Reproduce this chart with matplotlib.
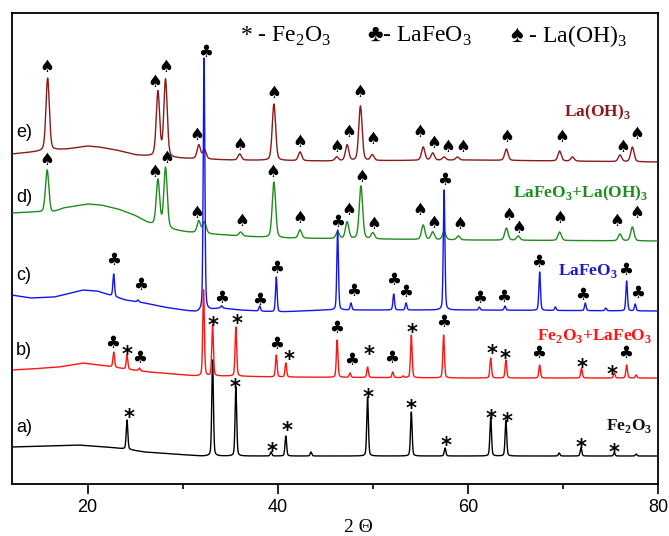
import numpy as np
import matplotlib
matplotlib.use("Agg")
import matplotlib.pyplot as plt

plt.rcParams["mathtext.fontset"] = "custom"
plt.rcParams["mathtext.rm"] = "Liberation Serif"
plt.rcParams["mathtext.bf"] = "Liberation Serif:bold"

# ---- a) Fe2O3 ------------------------------------------------------------
A_BASE_X = [12, 16, 19, 22, 24, 26, 29, 32, 80]
A_BASE_Y = [37, 38, 39, 37, 35, 32, 30, 28, 28]
A_PEAK_X = [24.15, 33.15, 35.6, 39.3, 40.85, 43.5, 49.45, 54.05, 57.6, 62.4, 64.0, 69.6, 71.9, 75.4, 77.7]
A_PEAK_Y = [64, 124, 97, 32, 48, 32, 87, 72, 36, 67, 64, 31, 36, 31, 30]
A_MARKS = [(24.36, 72, "*"), (35.49, 102, "*"), (39.38, 38, "*"), (40.96, 59, "*"),
           (49.46, 92, "*"), (53.98, 81, "*"), (57.66, 44, "*"), (62.39, 71, "*"),
           (64.07, 68, "*"), (71.95, 42, "*"), (75.41, 37, "*")]

# ---- b) Fe2O3 + LaFeO3 ---------------------------------------------------
B_BASE_X = [12, 14, 17, 19.5, 22, 24, 26.5, 29, 31.5, 35, 40, 60, 80]
B_BASE_Y = [114, 115, 117, 121, 118, 115, 112, 110, 108, 108, 107, 106, 106]
B_PEAK_X = [22.75, 24.15, 25.45, 32.2, 33.15, 35.6, 39.85, 40.85, 46.25, 47.6, 49.45,
            52.1, 53.2, 54.05, 57.45, 62.4, 64.0, 67.55, 71.95, 75.4, 76.7, 77.7]
B_PEAK_Y = [132, 129, 116, 194, 159, 157, 129, 121, 144, 111, 117,
            112, 108, 149, 149, 126, 124, 119, 116, 111, 119, 109]
B_MARKS = [(22.68, 141, "♣"), (24.2, 135, "*"), (25.45, 126, "♣"), (33.18, 164, "*"),
           (35.70, 166, "*"), (39.90, 140, "♣"), (41.16, 130, "*"), (46.21, 156, "♣"),
           (47.78, 124, "♣"), (49.57, 135, "*"), (51.98, 126, "♣"), (54.08, 157, "*"),
           (57.44, 162, "♣"), (62.49, 136, "*"), (63.96, 131, "*"), (67.42, 131, "♣"),
           (72.05, 122, "*"), (75.20, 115, "*"), (76.57, 131, "♣")]

# ---- c) LaFeO3 -----------------------------------------------------------
C_BASE_X = [12, 14, 16.5, 19.5, 21, 22.3, 24, 26, 28, 30, 31.5, 34, 36, 40, 45, 60, 80]
C_BASE_Y = [189, 186, 187, 194, 193, 189, 184, 181, 177, 174, 172, 176, 174, 172, 174, 174, 173]
C_PEAK_X = [22.75, 25.3, 32.25, 34.1, 38.1, 39.85, 46.3, 47.7, 52.2, 53.5, 57.5,
            61.2, 63.9, 67.55, 69.2, 72.35, 74.5, 76.7, 77.6]
C_PEAK_Y = [210, 184, 426, 178, 178, 207, 254, 181, 190, 181, 294,
            177, 178, 212, 177, 181, 176, 203, 180]
C_MARKS = [(22.78, 224), (25.62, 199), (32.45, 432), (34.13, 186), (38.12, 184),
           (39.90, 216), (46.31, 262), (47.99, 193), (52.19, 204), (53.45, 192),
           (57.55, 304), (61.23, 186), (63.75, 187), (67.42, 222), (72.05, 189),
           (76.57, 214), (77.83, 191)]

# ---- d) LaFeO3 + La(OH)3 -------------------------------------------------
D_BASE_X = [12, 14.5, 16.2, 17.5, 20, 21.4, 23.2, 24.9, 26.4, 27, 29, 30.5, 33, 36, 40, 50, 60, 80]
D_BASE_Y = [271, 272, 271, 276, 280, 279, 275, 269, 261, 259, 254, 252, 250, 248, 246, 245, 244, 243]
D_PEAK_X = [15.75, 27.4, 28.2, 31.7, 32.3, 36.1, 39.6, 42.35, 46.3, 47.3, 48.75, 50.0,
            55.3, 56.3, 57.5, 59.0, 64.05, 65.3, 69.65, 76.0, 77.3]
D_PEAK_Y = [314, 304, 316, 263, 262, 252, 302, 254, 252, 262, 298, 251,
            259, 252, 252, 248, 256, 248, 252, 250, 257]
D_MARKS = [(15.75, 324), (27.09, 312), (28.35, 326), (31.50, 271), (36.23, 263),
           (39.49, 312), (42.33, 266), (47.47, 274), (48.84, 307), (50.10, 260),
           (54.93, 274), (56.40, 261), (59.13, 260), (64.28, 269), (65.33, 256),
           (69.63, 266), (75.62, 263), (77.72, 271)]

# ---- e) La(OH)3 ----------------------------------------------------------
E_BASE_X = [12, 14.3, 16.4, 17.9, 20, 21.2, 23, 25.1, 26.2, 29, 35, 45, 60, 80]
E_BASE_Y = [330, 332, 334, 335, 338, 337, 334, 329, 328, 326, 324, 323, 324, 322]
E_PEAK_X = [15.8, 27.4, 28.2, 31.7, 32.3, 36.0, 39.6, 42.35, 46.2, 47.3, 48.7, 49.95,
            55.3, 56.3, 57.5, 58.9, 64.05, 69.65, 71.0, 76.0, 77.3]
E_PEAK_Y = [406, 392, 404, 339, 334, 330, 380, 332, 327, 339, 378, 329,
            337, 331, 327, 327, 335, 333, 327, 329, 337]
E_MARKS = [(15.75, 417), (27.09, 402), (28.25, 417), (31.50, 349), (36.02, 339),
           (39.59, 391), (42.33, 342), (46.21, 337), (47.47, 352), (48.63, 392),
           (49.99, 345), (54.93, 352), (56.40, 341), (57.87, 337), (59.45, 337),
           (64.07, 347), (69.85, 347), (76.25, 337), (77.72, 350)]

TRACE_TAGS = ["a)", "b)", "c)", "d)", "e)"]
TAG_Y = [57, 134, 209, 287, 352]
NAMES = [r"Fe$_\mathbf{2}$O$_\mathbf{3}$",
         r"Fe$_\mathbf{2}$O$_\mathbf{3}$+LaFeO$_\mathbf{3}$",
         r"LaFeO$_\mathbf{3}$",
         r"LaFeO$_\mathbf{3}$+La(OH)$_\mathbf{3}$",
         r"La(OH)$_\mathbf{3}$"]
NAME_X = [74.5, 67.3, 69.5, 64.7, 70.1]
NAME_Y = [54, 144, 209, 287, 368]

LINE_COLORS = ["black", "#ff1414", "#1414f0", "#1e8c1e", "#8b1a1a"]
NAME_COLORS = ["#111111", "#ff1414", "#1a1acc", "#1e8c1e", "#8b1a1a"]


def pattern(x, base_x, base_y, peak_x, peak_y, fwhm):
    y = np.interp(x, base_x, base_y)
    for x0, top in zip(peak_x, peak_y):
        amp = top - np.interp(x0, base_x, base_y)
        g = np.exp(-4 * np.log(2) * ((x - x0) / fwhm) ** 2)
        l = 1.0 / (1.0 + 4 * ((x - x0) / fwhm) ** 2)
        y = y + amp * (0.7 * g + 0.3 * l)
    return y


fig = plt.figure(figsize=(6.69, 5.36), dpi=100)
fig.patch.set_facecolor("white")
ax = fig.add_axes([0.0172, 0.097, 0.9664, 0.8787])

x = np.arange(12.0, 80.0, 0.01)
traces = [
    (A_BASE_X, A_BASE_Y, A_PEAK_X, A_PEAK_Y, 0.2),
    (B_BASE_X, B_BASE_Y, B_PEAK_X, B_PEAK_Y, 0.2),
    (C_BASE_X, C_BASE_Y, C_PEAK_X, C_PEAK_Y, 0.2),
    (D_BASE_X, D_BASE_Y, D_PEAK_X, D_PEAK_Y, 0.42),
    (E_BASE_X, E_BASE_Y, E_PEAK_X, E_PEAK_Y, 0.42),
]
zorders = [1, 2, 5, 4, 3]
for (bx, by, px, py, w), col, z in zip(traces, LINE_COLORS, zorders):
    ax.plot(x, pattern(x, bx, by, px, py, w), color=col, lw=1.0, zorder=z)

sym_style = {
    "*": dict(fontsize=15, fontweight="bold", family="DejaVu Sans", dy=-4),
    "♣": dict(fontsize=12, family="DejaVu Sans", dy=0),
    "♠": dict(fontsize=12, family="DejaVu Sans", dy=0),
}


def mark(xm, ym, sym):
    st = dict(sym_style[sym])
    dy = st.pop("dy")
    ax.annotate(sym, (xm, ym), xytext=(0, dy), textcoords="offset points",
                ha="center", va="center", color="black", zorder=6, **st)


for xm, ym, s in A_MARKS + B_MARKS:
    mark(xm, ym, s)
for xm, ym in C_MARKS:
    mark(xm, ym, "♣")
for xm, ym in D_MARKS + E_MARKS:
    mark(xm, ym, "♠")

for tag, ty in zip(TRACE_TAGS, TAG_Y):
    ax.text(12.45, ty, tag, fontsize=13, family="Liberation Sans",
            ha="left", va="center")

for name, nx, ny, col in zip(NAMES, NAME_X, NAME_Y, NAME_COLORS):
    ax.text(nx, ny, name, fontsize=12.5, family="Liberation Serif", fontweight="bold",
            color=col, ha="left", va="baseline", zorder=7)

leg_font = ["Liberation Serif", "DejaVu Sans"]
ax.text(36.0, 442, r"* - Fe$_\mathrm{2}$O$_\mathrm{3}$", fontsize=17, family=leg_font,
        ha="left", va="baseline")
ax.text(49.4, 442, r"♣- LaFeO$_\mathrm{3}$", fontsize=17, family=leg_font,
        ha="left", va="baseline")
ax.text(64.4, 442, r"♠ - La(OH)$_\mathrm{3}$", fontsize=17, family=leg_font,
        ha="left", va="baseline")

ax.set_xlim(12, 80)
ax.set_ylim(0, 471)
ax.set_xticks([20, 40, 60, 80])
ax.set_xticks([30, 50, 70], minor=True)
ax.set_yticks([])
ax.tick_params(axis="x", which="major", direction="out", length=7, width=1.2,
               labelsize=13, pad=4)
ax.tick_params(axis="x", which="minor", direction="out", length=3.5, width=1.2)
for lab in ax.get_xticklabels():
    lab.set_family("Liberation Sans")
for sp in ax.spines.values():
    sp.set_linewidth(1.3)

fig.text(358 / 669, 1 - 527 / 536, "2 Θ", fontsize=14, family="Liberation Serif",
         ha="center", va="center")

fig.savefig("out.png", dpi=100)
